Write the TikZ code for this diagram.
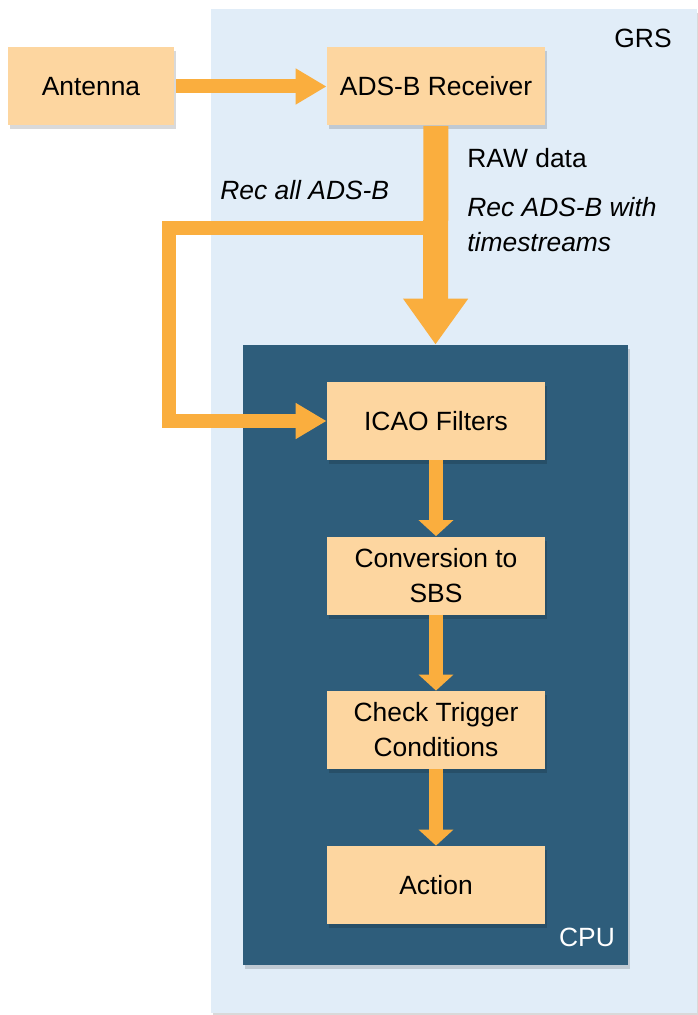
\documentclass[tikz,border=0pt]{standalone}
\usepackage{fontspec}
\setmainfont{Liberation Sans}
\usetikzlibrary{arrows.meta, positioning, shadows}
\definecolor{grsblue}{RGB}{225,237,248}
\definecolor{cpublue}{RGB}{46,93,123}
\definecolor{boxorange}{RGB}{253,214,160}
\definecolor{flowand}{RGB}{250,174,62}

\begin{document}
\begin{tikzpicture}[
  font=\fontsize{13.2}{17.5}\selectfont,
  x=0.5pt, y=-0.5pt,
  softshadow/.style={drop shadow={shadow xshift=1pt, shadow yshift=-2pt,
                     opacity=0.15, fill=black}},
  block/.style={fill=boxorange, minimum width=109pt, minimum height=39pt,
                inner sep=2pt, align=center, softshadow},
  feed/.style={draw=flowand, line width=7pt, line join=miter,
               -{Triangle[length=15.5pt,width=17pt]}},
  rawflow/.style={draw=flowand, line width=12.5pt,
                  -{Triangle[length=23pt,width=31pt]}},
  stepflow/.style={draw=flowand, line width=7pt,
                   -{Triangle[length=8pt,width=17pt]}},
  note/.style={anchor=west, inner sep=0pt, align=left},
]
\path[use as bounding box] (0,0) rectangle (697,1015);
% GRS and CPU frames
\node[fill=grsblue, minimum width=243pt, minimum height=502pt, inner sep=0pt,
      softshadow] (grs) at (454,511) {};
\node (grslabel) at (643,38) {GRS};
\node[fill=cpublue, minimum width=192.5pt, minimum height=310pt, inner sep=0pt,
      softshadow] (cpu) at (435.5,655) {};
\node[text=white] (cpulabel) at (587,937) {CPU};

% blocks
\node[block, minimum width=83pt] (ant) at (91,86.5)  {Antenna};
\node[block]                     (rx)  at (436,86.5) {ADS-B Receiver};
\node[block]                     (icao) at (436,421) {ICAO Filters};
\node[block]                     (sbs)  at (436,575.5) {Conversion to\\SBS};
\node[block]                     (trig) at (436,730) {Check Trigger\\Conditions};
\node[block]                     (act)  at (436,885) {Action};

% notes
\node[note] (raw) at (467,158) {RAW data};
\node[note, font=\fontsize{13.2}{17.5}\selectfont\itshape] (recall) at (220,190) {Rec all ADS-B};
\node[note, font=\fontsize{13.2}{17.5}\selectfont\itshape] (rects) at (467,224.5)
  {Rec ADS-B with\\timestreams};

% flows
\coordinate (split) at (436,228);
\coordinate (bend)  at (169,228);
\draw[feed, shorten <=1pt] (ant) -- (rx);
\draw[feed] (split) -- (bend) |- (icao.west);
\draw[rawflow] (rx) -- (cpu.north);
\draw[stepflow] (icao) -- (sbs);
\draw[stepflow] (sbs) -- (trig);
\draw[stepflow] (trig) -- (act);
\end{tikzpicture}
\end{document}
